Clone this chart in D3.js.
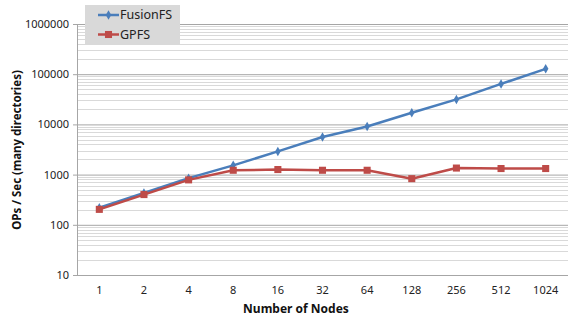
<!DOCTYPE html>
<html><head><meta charset="utf-8">
<script src="https://cdn.jsdelivr.net/npm/d3@7"></script>
<style>body{margin:0;background:#fff}svg{display:block}</style>
</head><body>
<script>
const categories = ["1","2","4","8","16","32","64","128","256","512","1024"];
const fusionFS = [218, 432, 850, 1530, 2900, 5600, 9100, 17100, 31500, 64000, 128000];
const gpfs = [203, 400, 785, 1220, 1260, 1220, 1220, 830, 1350, 1320, 1320];
const yTicks = [10, 100, 1000, 10000, 100000, 1000000];
const seriesNames = ["FusionFS", "GPFS"];

const W = 568, H = 316;
const m = {left: 77, right: 0, top: 24, bottom: 41};
const svg = d3.select("body").append("svg").attr("width", W).attr("height", H);
const font = "'Noto Sans', sans-serif";

const x = d3.scaleBand().domain(categories).range([m.left, W - m.right]);
const y = d3.scaleLog().domain([10, 1000000]).range([H - m.bottom, m.top]);

// minor gridlines
const minor = [];
for (let d = 10; d < 1000000; d *= 10) for (let k = 2; k <= 9; k++) minor.push(d * k);
svg.append("g").selectAll("line").data(minor).join("line")
  .attr("x1", m.left).attr("x2", W - m.right)
  .attr("y1", d => Math.round(y(d)) + 0.5).attr("y2", d => Math.round(y(d)) + 0.5)
  .attr("stroke", "#d9d9d9").attr("stroke-width", 1);

// major gridlines via axis
const yAxis = d3.axisLeft(y).tickValues(yTicks).tickFormat(d3.format("d")).tickSize(-(W - m.left - m.right)).tickPadding(8);
const gy = svg.append("g").attr("transform", `translate(${m.left},0)`).call(yAxis);
gy.select(".domain").remove();
gy.selectAll(".tick line").attr("stroke", "#a6a6a6").attr("x1", -4);
gy.selectAll(".tick text").attr("font-family", font).attr("font-size", 11).attr("fill", "#222");

// axis lines
svg.append("line").attr("x1", m.left + 0.5).attr("x2", m.left + 0.5)
  .attr("y1", m.top).attr("y2", H - m.bottom).attr("stroke", "#a6a6a6");
svg.append("line").attr("x1", m.left).attr("x2", W)
  .attr("y1", H - m.bottom + 0.5).attr("y2", H - m.bottom + 0.5).attr("stroke", "#a6a6a6");

// x axis labels
const xAxis = d3.axisBottom(x).tickSize(0).tickPadding(11);
const gx = svg.append("g").attr("transform", `translate(0,${H - m.bottom})`).call(xAxis);
gx.select(".domain").remove();
gx.selectAll(".tick text").attr("font-family", font).attr("font-size", 11).attr("fill", "#222");

// titles
svg.append("text").attr("x", 296).attr("y", 313).attr("text-anchor", "middle")
  .attr("font-family", font).attr("font-size", 12).attr("font-weight", "bold").attr("fill", "#111")
  .text("Number of Nodes");
svg.append("text").attr("transform", "translate(21,150) rotate(-90)").attr("text-anchor", "middle")
  .attr("font-family", font).attr("font-size", 11.5).attr("font-weight", "bold").attr("fill", "#111")
  .text("OPs / Sec  (many directories)");

const cx = c => x(c) + x.bandwidth() / 2;
const line = d3.line().x((d, i) => cx(categories[i])).y(d => y(d));
const colors = ["#4a7ebb", "#be4b48"];

[fusionFS, gpfs].forEach((s, si) => {
  svg.append("path").datum(s).attr("d", line).attr("fill", "none")
    .attr("stroke", colors[si]).attr("stroke-width", 2.5).attr("stroke-linejoin", "round");
});
const diamond = d3.symbol().type(d3.symbolDiamond).size(26);
const square = d3.symbol().type(d3.symbolSquare).size(50);
svg.append("g").selectAll("path").data(fusionFS).join("path")
  .attr("transform", (d, i) => `translate(${cx(categories[i])},${y(d)})`)
  .attr("d", diamond).attr("fill", colors[0]);
svg.append("g").selectAll("path").data(gpfs).join("path")
  .attr("transform", (d, i) => `translate(${cx(categories[i])},${y(d)})`)
  .attr("d", square).attr("fill", colors[1]);

// legend
const lg = svg.append("g");
lg.append("rect").attr("x", 85).attr("y", 5).attr("width", 95).attr("height", 39).attr("fill", "#d9d9d9");
seriesNames.forEach((n, i) => {
  const yy = 15 + i * 19.5;
  lg.append("line").attr("x1", 98).attr("x2", 119).attr("y1", yy).attr("y2", yy)
    .attr("stroke", colors[i]).attr("stroke-width", 2.5);
  lg.append("path").attr("transform", `translate(108.5,${yy})`).attr("d", i ? square : diamond).attr("fill", colors[i]);
  lg.append("text").attr("x", 120).attr("y", yy).attr("dy", "0.35em")
    .attr("font-family", font).attr("font-size", 12.5).attr("fill", "#222").text(n);
});
</script>
</body></html>
